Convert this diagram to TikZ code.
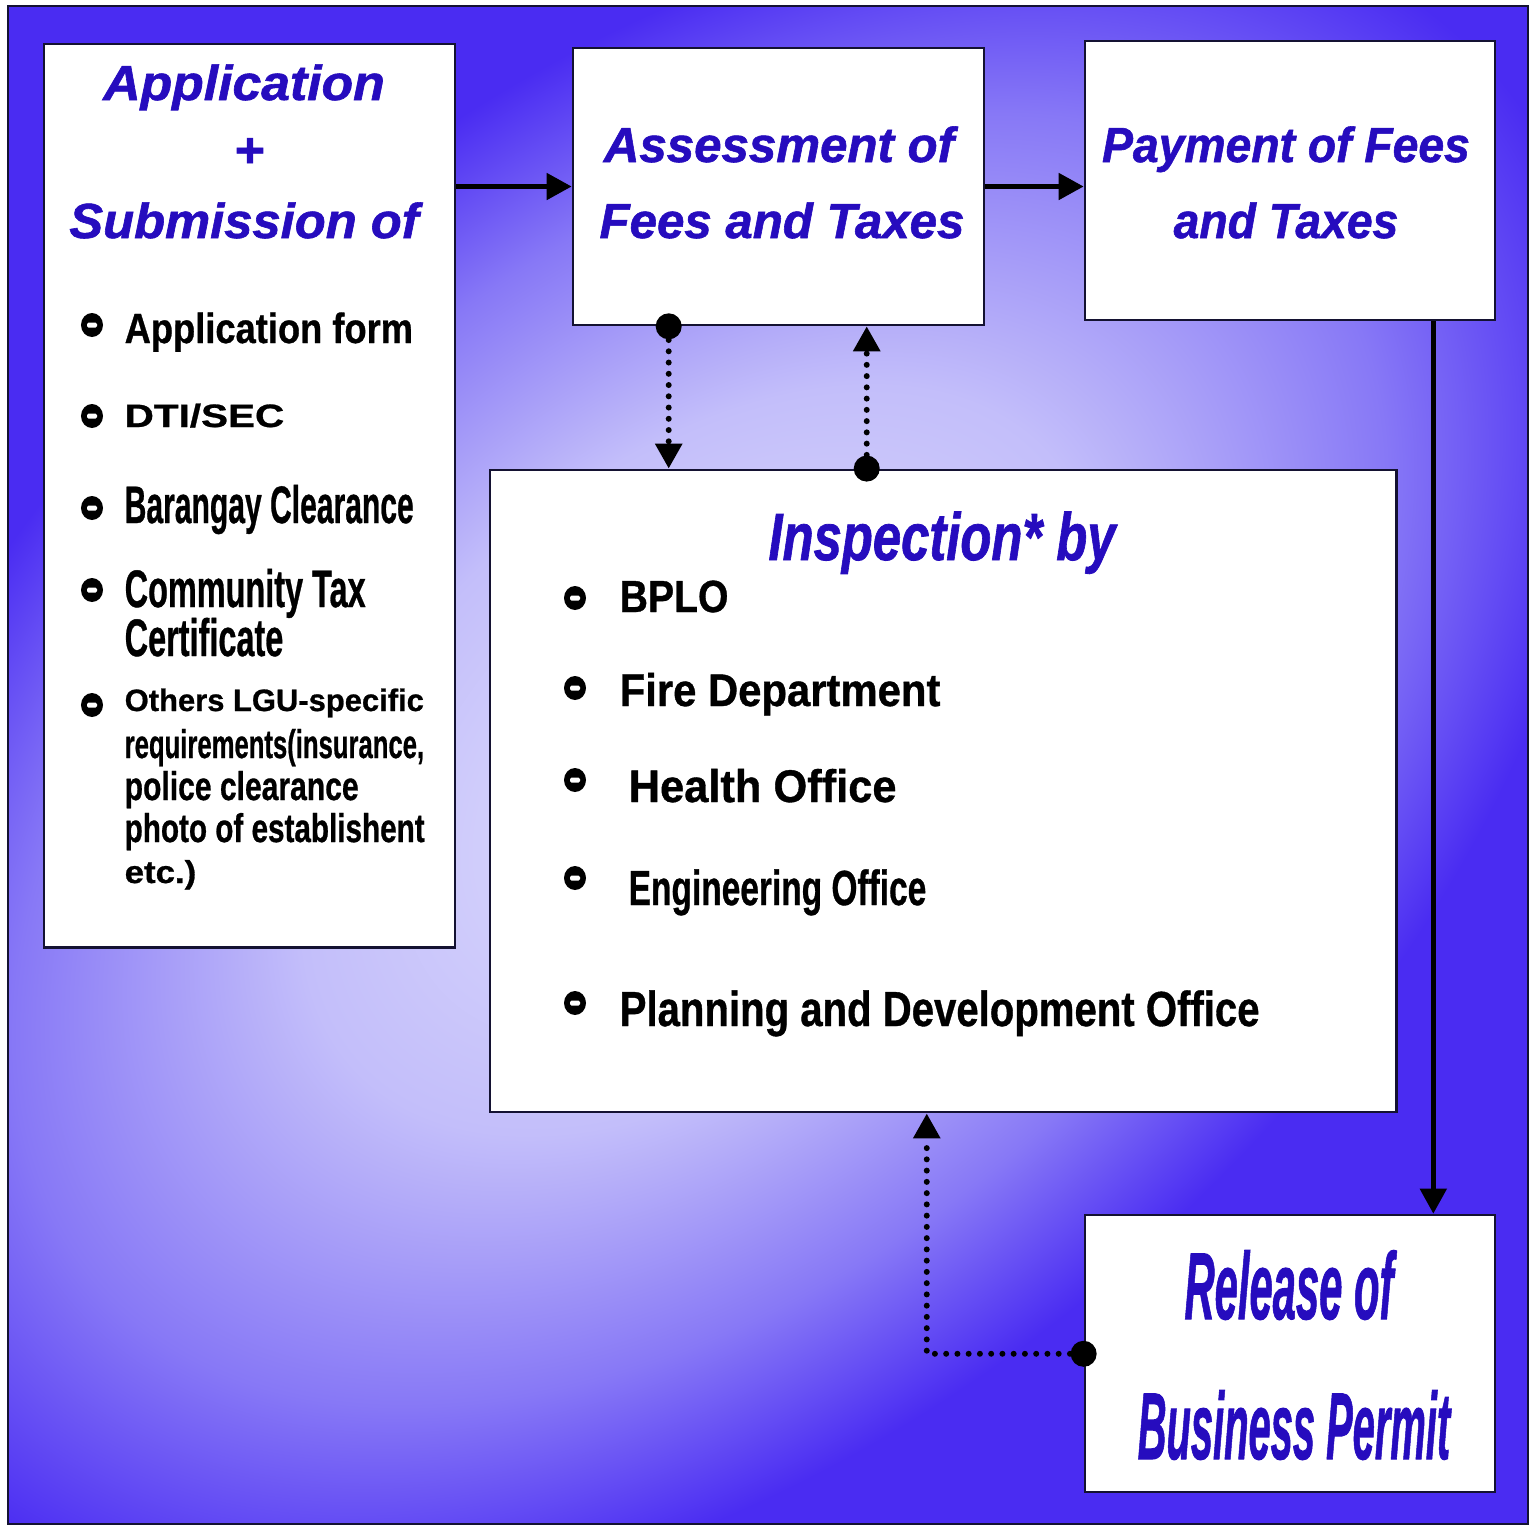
\documentclass[tikz,border=0pt]{standalone}
\usepackage{fontspec}
\setmainfont{Liberation Sans}[BoldFeatures={FakeBold=0.8}, BoldItalicFeatures={FakeBold=1.2}]
\usepackage{graphicx}
\usetikzlibrary{arrows.meta}
\definecolor{bgblue}{RGB}{74,44,242}
\definecolor{bglight}{RGB}{225,224,252}
\definecolor{bgmid}{RGB}{195,190,250}
\definecolor{bgdeep}{RGB}{135,120,246}
\definecolor{titleblue}{RGB}{38,12,190}
\definecolor{edge}{RGB}{20,18,50}
\pgfdeclareradialshading{glow}{\pgfpoint{0bp}{0bp}}{color(0bp)=(bglight); color(11bp)=(bgmid); color(19bp)=(bgdeep); color(25bp)=(bgblue); color(50bp)=(bgblue)}
\newcommand{\sq}[2]{\scalebox{#1}[1]{#2}}
\tikzset{box/.style = {draw=edge, fill=white, line width=0.7pt, rectangle, inner sep=0pt},
         title/.style = {text=titleblue, anchor=base, inner sep=0pt},
         item/.style = {anchor=base west, inner sep=0pt},
         dot/.style = {fill=black, circle, inner sep=0pt, minimum size=0.26cm},
         arr/.style = {-{Triangle[length=0.25cm,width=0.26cm]}, line width=1.4pt},
         dotarr/.style = {-{Triangle[length=0.25cm,width=0.26cm]}, line width=1.7pt, line cap=round, dash pattern=on 0pt off 3.2pt},
         bul/.pic = {\fill[black] (0,0) ellipse [x radius=0.11cm, y radius=0.12cm];
                     \fill[white, rounded corners=0.015cm] (-5,-2.5) rectangle (5,2.5);}}

\begin{document}
\begin{tikzpicture}[x=0.01cm, y=-0.01cm]
        % page and shaded background
        \fill[white] (0,0) rectangle (1533,1524);
        \begin{scope}
            \clip (8,6) rectangle (1528,1524);
            \fill[bgblue] (8,6) rectangle (1528,1524);
            \begin{scope}[transform canvas={rotate around={41:(700,760)}}]
                \shade[shading=glow] (700,760) ellipse [x radius=10.5cm, y radius=6.6cm];
            \end{scope}
        \end{scope}
        \draw[edge, line width=0.6pt] (8,6) rectangle (1528,1524);

        % boxes
        \node[box, minimum width=4.11cm, minimum height=9.03cm](app)at(249.5,495.5){};
        \node[box, minimum width=4.11cm, minimum height=2.77cm](assess)at(778.5,186.5){};
        \node[box, minimum width=4.10cm, minimum height=2.79cm](pay)at(1290,180.5){};
        \node[box, minimum width=9.06cm, minimum height=6.42cm](insp)at(943,791){};
        \node[box, minimum width=4.10cm, minimum height=2.77cm](rel)at(1290,1353.5){};

        % solid flow
        \draw[arr](app.east |- assess.west) -- (assess.west);
        \draw[arr](assess.east) -- (assess.east -| pay.west);
        \draw[arr]([xshift=-0.63cm]pay.south east) -- ([xshift=-0.63cm]rel.north east);

        % dotted links
        \node[dot](d1)at([xshift=0.97cm]assess.south west){};
        \node[dot](d2)at([xshift=3.78cm]insp.north west){};
        \node[dot](d3)at([yshift=-1.40cm]rel.north west){};
        \draw[dotarr](d1) -- (d1 |- insp.north);
        \draw[dotarr](d2) -- (d2 |- assess.south);
        \draw[dotarr](d3) -| ([xshift=4.38cm]insp.south west);

        % titles
        \node[title, font=\bfseries\itshape\fontsize{14}{17}\selectfont](t1)at(244,100){\sq{1.05}{Application}};
        \node[title, font=\bfseries\itshape\fontsize{14}{17}\selectfont](t2)at(249,167){\sq{1.05}{+}};
        \node[title, font=\bfseries\itshape\fontsize{14}{17}\selectfont](t3)at(244,238){\sq{1.03}{Submission of}};
        \node[title, font=\bfseries\itshape\fontsize{14}{17}\selectfont](t4)at(779,162){Assessment of};
        \node[title, font=\bfseries\itshape\fontsize{14}{17}\selectfont](t5)at(782,238){Fees and Taxes};
        \node[title, font=\bfseries\itshape\fontsize{14}{17}\selectfont](t6)at(1286,162){\sq{0.94}{Payment of Fees}};
        \node[title, font=\bfseries\itshape\fontsize{14}{17}\selectfont](t7)at(1286,238){\sq{0.94}{and Taxes}};
        \node[title, font=\bfseries\itshape\fontsize{19}{22}\selectfont](t8)at(942,560){\sq{0.76}{Inspection* by}};
        \node[title, font=\bfseries\itshape\fontsize{27}{30}\selectfont](t9)at(1289,1319){\sq{0.44}{Release of}};
        \node[title, font=\bfseries\itshape\fontsize{27}{30}\selectfont](t10)at(1294,1459){\sq{0.42}{Business Permit}};

        % requirements
        \pic at (92,325) {bul};
        \pic at (92,416) {bul};
        \pic at (92,508) {bul};
        \pic at (92,590) {bul};
        \pic at (92,705) {bul};
        \node[item, font=\bfseries\fontsize{12}{14}\selectfont](r1)at(124,343){\sq{0.86}{Application form}};
        \node[item, font=\bfseries\fontsize{9.2}{11}\selectfont](r2)at(124,427){\sq{1.25}{DTI/SEC}};
        \node[item, font=\bfseries\fontsize{15}{17}\selectfont](r3)at(124,523){\sq{0.57}{Barangay Clearance}};
        \node[item, font=\bfseries\fontsize{15}{17}\selectfont](r4)at(124,607){\sq{0.615}{Community Tax}};
        \node[item, font=\bfseries\fontsize{15}{17}\selectfont](r5)at(124,656){\sq{0.615}{Certificate}};
        \node[item, font=\bfseries\fontsize{8.8}{10}\selectfont](r6)at(124,711){Others LGU-specific};
        \node[item, font=\bfseries\fontsize{11.4}{13}\selectfont](r7)at(124,758){\sq{0.64}{requirements(insurance,}};
        \node[item, font=\bfseries\fontsize{11.4}{13}\selectfont](r8)at(124,800){\sq{0.75}{police clearance}};
        \node[item, font=\bfseries\fontsize{11.4}{13}\selectfont](r9)at(124,842){\sq{0.74}{photo of establishent}};
        \node[item, font=\bfseries\fontsize{9}{11}\selectfont](r10)at(124,883){\sq{1.1}{etc.)}};

        % inspecting offices
        \pic at (575,598) {bul};
        \pic at (575,688) {bul};
        \pic at (575,780) {bul};
        \pic at (575,878) {bul};
        \pic at (575,1003) {bul};
        \node[item, font=\bfseries\fontsize{12.8}{15}\selectfont](o1)at(619,612){\sq{0.87}{BPLO}};
        \node[item, font=\bfseries\fontsize{13}{15}\selectfont](o2)at(619,706){\sq{0.915}{Fire Department}};
        \node[item, font=\bfseries\fontsize{13}{15}\selectfont](o3)at(628,802){\sq{0.95}{Health Office}};
        \node[item, font=\bfseries\fontsize{14}{16}\selectfont](o4)at(628,905){\sq{0.68}{Engineering Office}};
        \node[item, font=\bfseries\fontsize{14}{16}\selectfont](o5)at(619,1026){\sq{0.815}{Planning and Development Office}};
    \end{tikzpicture}
\end{document}
